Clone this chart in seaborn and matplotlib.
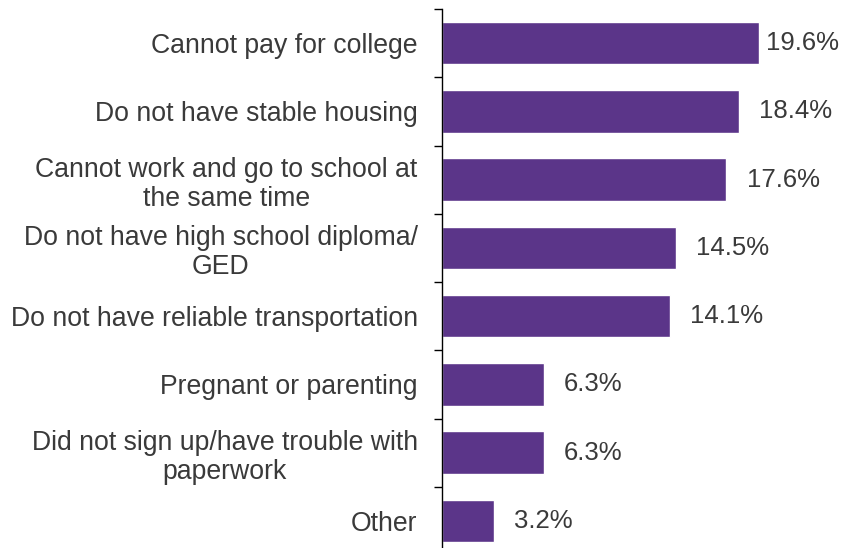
import numpy as np
import pandas as pd
import matplotlib
matplotlib.use("Agg")
import matplotlib.pyplot as plt
import seaborn as sns

# Barriers to enrolling in college (percent of respondents)
categories = [
    "Cannot pay for college",
    "Do not have stable housing",
    "Cannot work and go to school at\nthe same time",
    "Do not have high school diploma/\nGED",
    "Do not have reliable transportation",
    "Pregnant or parenting",
    "Did not sign up/have trouble with\npaperwork",
    "Other",
]
percentages = [19.6, 18.4, 17.6, 14.5, 14.1, 6.3, 6.3, 3.2]

df = pd.DataFrame({"reason": categories, "pct": percentages})

sns.set_theme(style="white")
plt.rcParams["font.family"] = ["Liberation Sans", "DejaVu Sans"]

BAR_COLOR = "#5B3589"
TEXT_COLOR = "#3A3A3A"

fig = plt.figure(figsize=(8.56, 5.48), dpi=100)
ax = fig.add_axes([442 / 856, -7 / 548, 404 / 856, 546 / 548])

sns.barplot(data=df, x="pct", y="reason", color=BAR_COLOR, width=0.62,
            saturation=1, ax=ax, orient="h")

ax.set_xlim(0, 25)
ax.set_ylim(len(categories) - 0.5, -0.5)
ax.set_xlabel("")
ax.set_ylabel("")
ax.set_xticks([])

for side in ("top", "right", "bottom"):
    ax.spines[side].set_visible(False)
ax.spines["left"].set_color("black")
ax.spines["left"].set_linewidth(1.0)

# Category labels without ticks; tick marks sit on category boundaries
ax.tick_params(axis="y", which="major", length=0, pad=17.5,
               labelsize=19.2, labelcolor=TEXT_COLOR)
ax.set_yticks(np.arange(-0.5, len(categories), 1.0), minor=True)
ax.tick_params(axis="y", which="minor", length=6, width=1.0,
               color="black", direction="out", left=True)
for lbl in ax.get_yticklabels():
    lbl.set_multialignment("center")
    lbl.set_linespacing(1.15)

# Value labels to the right of each bar
for i, v in enumerate(percentages):
    offset = 5 if i == 0 else 14.5
    ax.annotate(f"{v:.1f}%", xy=(v, i), xytext=(offset, 0),
                textcoords="offset points", va="center", ha="left",
                fontsize=18.5, color=TEXT_COLOR)

fig.savefig("out.png", dpi=100)
